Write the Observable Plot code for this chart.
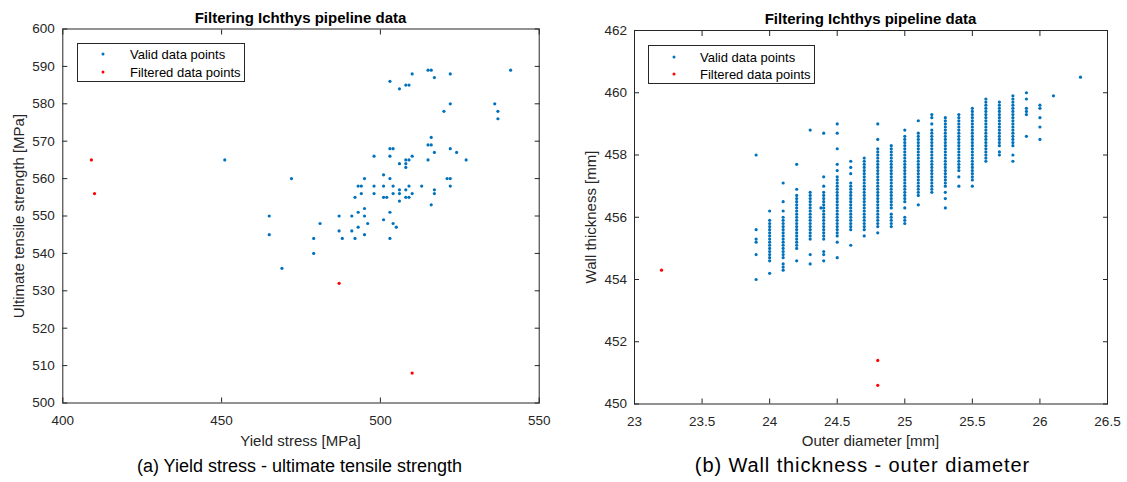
<!DOCTYPE html>
<html>
<head>
<meta charset="utf-8">
<script src="https://cdn.jsdelivr.net/npm/d3@7"></script>
<script src="https://cdn.jsdelivr.net/npm/@observablehq/plot@0.6"></script>
<style>
  html, body { margin: 0; padding: 0; background: #fff; }
  #root { position: relative; width: 1127px; height: 482px; overflow: hidden; font-family: "Liberation Sans", Arial, Helvetica, sans-serif; }
  #root svg { position: absolute; top: 0; }
  .txt { position: absolute; white-space: nowrap; line-height: 1; transform: translate(-50%, -50%); color: #262626; }
  .title { font-weight: bold; font-size: 15px; color: #000; }
  .xlab { font-size: 15px; }
  .ylab { font-size: 15px; transform: translate(-50%, -50%) rotate(-90deg); }
  .cap { font-size: 18px; color: #000; }
  .capb { font-size: 20px; letter-spacing: 0.9px; color: #000; }
  .legend { position: absolute; box-sizing: border-box; border: 1px solid #262626; background: #fff; }
  .litem { position: absolute; font-size: 13px; line-height: 1; white-space: nowrap; color: #000; transform: translateY(-50%); }
  .ldot { position: absolute; width: 3px; height: 3px; border-radius: 50%; transform: translate(-50%, -50%); }
</style>
</head>
<body>
<div id="root"></div>
<script>
// ---------- Panel (a): yield stress vs ultimate tensile strength ----------
const yieldValid = [451,465,465,469,472,479,479,481,487,487,488,491,491,492,492,493,493,493,494,494,495,495,495,495,496,498,498,498,501,501,501,501,502,503,503,503,503,503,503,504,504,504,504,505,506,506,506,506,506,508,508,508,508,508,508,509,509,509,509,510,510,510,513,515,515,515,516,516,516,516,517,517,517,517,520,521,522,522,522,522,522,524,527,536,537,537,541];
const utsValid   = [565,550,545,536,560,544,540,548,550,546,544,550,546,555,544,558,551,547,558,556,560,552,550,545,548,566,558,556,561,558,555,549,555,586,568,566,560,551,544,568,558,556,548,547,584,564,557,556,554,585,565,564,563,557,555,585,565,558,555,588,566,556,558,589,569,565,589,571,569,553,587,567,557,556,578,560,588,580,568,560,558,567,565,580,578,576,589];
const yieldFiltered = [409, 410, 487, 510];
const utsFiltered   = [565, 556, 532, 508];
const yieldTicks = [400, 450, 500, 550];
const utsTicks = [500, 510, 520, 530, 540, 550, 560, 570, 580, 590, 600];

// ---------- Panel (b): outer diameter vs wall thickness ----------
const wt_23_9 = [458.0, 455.6, 455.3, 455.2, 454.8, 454.0];
const wt_24_0 = [456.2, 455.9, 455.8, 455.7, 455.6, 455.5, 455.4, 455.3, 455.2, 455.1, 455.0, 454.9, 454.8, 454.7, 454.6, 454.2];
const wt_24_1 = [457.1, 456.5, 456.2, 456.0, 455.9, 455.8, 455.7, 455.6, 455.5, 455.4, 455.3, 455.2, 455.1, 455.0, 454.9, 454.8, 454.7, 454.5, 454.4, 454.3];
const wt_24_2 = [457.7, 456.9, 456.7, 456.6, 456.5, 456.4, 456.3, 456.2, 456.1, 456.0, 455.9, 455.8, 455.7, 455.6, 455.5, 455.4, 455.3, 455.2, 455.1, 455.0, 454.6];
const wt_24_3 = [458.8, 456.8, 456.7, 456.6, 456.5, 456.4, 456.3, 456.2, 456.1, 456.0, 455.9, 455.8, 455.7, 455.6, 455.5, 455.4, 455.3, 454.8, 454.5];
const wt_24_38 = [456.3];
const wt_24_4 = [458.7, 457.3, 457.0, 456.8, 456.7, 456.6, 456.5, 456.4, 456.3, 456.2, 456.1, 456.0, 455.9, 455.8, 455.7, 455.6, 455.5, 455.4, 455.3, 454.9, 454.8, 454.6];
const wt_24_5 = [459.0, 458.7, 458.2, 457.7, 457.5, 457.3, 457.2, 457.1, 457.0, 456.9, 456.8, 456.7, 456.6, 456.5, 456.4, 456.3, 456.2, 456.1, 456.0, 455.9, 455.8, 455.7, 455.6, 455.5, 455.4, 455.2, 454.7];
const wt_24_6 = [457.8, 457.6, 457.4, 457.1, 457.0, 456.9, 456.8, 456.7, 456.6, 456.5, 456.4, 456.3, 456.2, 456.1, 456.0, 455.9, 455.8, 455.7, 455.6, 455.1];
const wt_24_7 = [457.9, 457.8, 457.7, 457.6, 457.5, 457.4, 457.3, 457.2, 457.1, 457.0, 456.9, 456.8, 456.7, 456.6, 456.5, 456.4, 456.3, 456.2, 456.1, 456.0, 455.9, 455.8, 455.7, 455.6, 455.4];
const wt_24_8 = [459.0, 458.5, 458.2, 458.1, 458.0, 457.9, 457.8, 457.7, 457.6, 457.5, 457.4, 457.3, 457.2, 457.1, 457.0, 456.9, 456.8, 456.7, 456.6, 456.5, 456.4, 456.3, 456.2, 456.1, 456.0, 455.9, 455.8, 455.7, 455.5];
const wt_24_9 = [458.3, 458.2, 458.1, 458.0, 457.9, 457.8, 457.7, 457.6, 457.5, 457.4, 457.3, 457.2, 457.1, 457.0, 456.9, 456.8, 456.7, 456.6, 456.5, 456.4, 456.3, 456.1, 456.0, 455.9, 455.8, 455.7];
const wt_25_0 = [458.8, 458.6, 458.5, 458.4, 458.3, 458.2, 458.1, 458.0, 457.9, 457.8, 457.7, 457.6, 457.5, 457.4, 457.3, 457.2, 457.1, 457.0, 456.9, 456.8, 456.7, 456.6, 456.5, 456.3, 456.0, 455.9, 455.8];
const wt_25_1 = [459.1, 458.7, 458.6, 458.5, 458.4, 458.3, 458.2, 458.1, 458.0, 457.9, 457.8, 457.7, 457.6, 457.5, 457.4, 457.3, 457.2, 457.1, 457.0, 456.9, 456.8, 456.7, 456.4];
const wt_25_2 = [459.3, 459.2, 459.0, 458.8, 458.7, 458.6, 458.5, 458.4, 458.3, 458.2, 458.1, 458.0, 457.9, 457.8, 457.7, 457.6, 457.5, 457.4, 457.3, 457.2, 457.1, 457.0, 456.9, 456.8];
const wt_25_3 = [459.2, 459.1, 459.0, 458.9, 458.8, 458.7, 458.6, 458.5, 458.4, 458.3, 458.2, 458.1, 458.0, 457.9, 457.8, 457.7, 457.6, 457.5, 457.4, 457.3, 457.2, 457.1, 457.0, 456.8, 456.6, 456.3];
const wt_25_4 = [459.3, 459.2, 459.1, 459.0, 458.9, 458.8, 458.7, 458.6, 458.5, 458.4, 458.3, 458.2, 458.1, 458.0, 457.9, 457.8, 457.7, 457.6, 457.5, 457.3, 457.0];
const wt_25_5 = [459.5, 459.4, 459.3, 459.2, 459.1, 459.0, 458.9, 458.8, 458.7, 458.6, 458.5, 458.4, 458.3, 458.2, 458.1, 458.0, 457.9, 457.8, 457.7, 457.6, 457.5, 457.4, 457.3, 457.2, 457.0];
const wt_25_6 = [459.8, 459.7, 459.6, 459.5, 459.4, 459.3, 459.2, 459.1, 459.0, 458.9, 458.8, 458.7, 458.6, 458.5, 458.4, 458.3, 458.2, 458.1, 458.0, 457.9, 457.8];
const wt_25_7 = [459.7, 459.6, 459.5, 459.4, 459.3, 459.2, 459.1, 459.0, 458.9, 458.8, 458.7, 458.6, 458.5, 458.4, 458.3, 458.1, 458.0];
const wt_25_8 = [459.9, 459.8, 459.7, 459.6, 459.5, 459.4, 459.3, 459.2, 459.1, 459.0, 458.9, 458.8, 458.7, 458.6, 458.5, 458.4, 458.3, 458.0, 457.8];
const wt_25_9 = [460.0, 459.8, 459.5, 459.4, 459.3, 458.6];
const wt_26_0 = [459.6, 459.5, 459.2, 458.9, 458.5];
const wt_26_1 = [459.9];
const wt_26_3 = [460.5];

const outerDiameters = [23.9, 24.0, 24.1, 24.2, 24.3, 24.38, 24.4, 24.5, 24.6, 24.7, 24.8, 24.9, 25.0, 25.1, 25.2, 25.3, 25.4, 25.5, 25.6, 25.7, 25.8, 25.9, 26.0, 26.1, 26.3];
const wallColumns = [wt_23_9, wt_24_0, wt_24_1, wt_24_2, wt_24_3, wt_24_38, wt_24_4, wt_24_5, wt_24_6, wt_24_7, wt_24_8, wt_24_9, wt_25_0, wt_25_1, wt_25_2, wt_25_3, wt_25_4, wt_25_5, wt_25_6, wt_25_7, wt_25_8, wt_25_9, wt_26_0, wt_26_1, wt_26_3];
const odFiltered = [23.2, 24.8, 24.8];
const wtFiltered = [454.3, 451.4, 450.6];
const odTicks = [23, 23.5, 24, 24.5, 25, 25.5, 26, 26.5];
const wtTicks = [450, 452, 454, 456, 458, 460, 462];

const BLUE = "#0072BD", RED = "#FF0000", AX = "#262626";

function panel({valid, filtered, xDomain, yDomain, xTicks, yTicks, width, ml, mr, mt, mb, left, yPad}) {
  const fmt = d => String(d);
  const svg = Plot.plot({
    width, height: 482,
    marginLeft: ml, marginRight: mr, marginTop: mt, marginBottom: mb,
    style: {background: "transparent", overflow: "visible", color: AX,
            fontFamily: "'Liberation Sans', Arial, Helvetica, sans-serif", fontSize: "13.5px"},
    x: {domain: xDomain, label: null},
    y: {domain: yDomain, label: null},
    marks: [
      Plot.frame({stroke: AX, strokeWidth: 1}),
      Plot.axisX(xTicks, {anchor: "bottom", tickSize: 0, tickPadding: 12, tickFormat: fmt, label: null}),
      Plot.axisX(xTicks, {anchor: "bottom", tickSize: -5, tickFormat: () => "", label: null}),
      Plot.axisX(xTicks, {anchor: "top", tickSize: -5, tickFormat: () => "", label: null}),
      Plot.axisY(yTicks, {anchor: "left", tickSize: 0, tickPadding: yPad, tickFormat: fmt, label: null}),
      Plot.axisY(yTicks, {anchor: "left", tickSize: -5, tickFormat: () => "", label: null}),
      Plot.axisY(yTicks, {anchor: "right", tickSize: -5, tickFormat: () => "", label: null}),
      Plot.dot(valid, {x: "x", y: "y", r: 1.6, fill: BLUE, stroke: null}),
      Plot.dot(filtered, {x: "x", y: "y", r: 1.6, fill: RED, stroke: null})
    ]
  });
  svg.style.left = left + "px";
  return svg;
}

const validA = yieldValid.map((x, i) => ({x, y: utsValid[i]}));
const filteredA = yieldFiltered.map((x, i) => ({x, y: utsFiltered[i]}));
const validB = outerDiameters.flatMap((x, i) => wallColumns[i].map(y => ({x, y})));
const filteredB = odFiltered.map((x, i) => ({x, y: wtFiltered[i]}));

const root = document.getElementById("root");
root.appendChild(panel({valid: validA, filtered: filteredA, xDomain: [400, 550], yDomain: [500, 600],
  xTicks: yieldTicks, yTicks: utsTicks, width: 563, ml: 62.3, mr: 24.3, mt: 28.5, mb: 79.5, left: 0, yPad: 8}));
root.appendChild(panel({valid: validB, filtered: filteredB, xDomain: [23, 26.5], yDomain: [450, 462],
  xTicks: odTicks, yTicks: wtTicks, width: 564, ml: 71, mr: 20, mt: 30, mb: 78.5, left: 563, yPad: 7.5}));

function addText(cls, text, x, y) {
  const d = document.createElement("div");
  d.className = "txt " + cls;
  d.textContent = text;
  d.style.left = x + "px";
  d.style.top = y + "px";
  root.appendChild(d);
}
const titleText = "Filtering Ichthys pipeline data";
addText("title", titleText, 300.5, 17.3);
addText("title", titleText, 870.5, 17.8);
addText("xlab", "Yield stress [MPa]", 300.5, 440);
addText("xlab", "Outer diameter [mm]", 870.5, 440);
addText("ylab", "Ultimate tensile strength [MPa]", 18, 215.5);
addText("ylab", "Wall thickness [mm]", 590, 216.8);
addText("cap", "(a) Yield stress - ultimate tensile strength", 299.5, 465.6);
addText("capb", "(b) Wall thickness - outer diameter", 862.5, 465.2);

const legendLabels = ["Valid data points", "Filtered data points"];
const legendColors = [BLUE, RED];
function addLegend(x0, y0, w, h, dotX, textX, rows) {
  const box = document.createElement("div");
  box.className = "legend";
  Object.assign(box.style, {left: x0 + "px", top: y0 + "px", width: w + "px", height: h + "px"});
  root.appendChild(box);
  legendLabels.forEach((lab, i) => {
    const dot = document.createElement("div");
    dot.className = "ldot";
    Object.assign(dot.style, {left: dotX + "px", top: rows[i] + "px", background: legendColors[i]});
    root.appendChild(dot);
    const t = document.createElement("div");
    t.className = "litem";
    t.textContent = lab;
    Object.assign(t.style, {left: textX + "px", top: rows[i] + "px"});
    root.appendChild(t);
  });
}
addLegend(77.3, 42.7, 168, 39.5, 103, 130, [54.3, 72.3]);
addLegend(648.3, 45, 167, 39, 674.3, 700, [57.3, 74]);
</script>
</body>
</html>
